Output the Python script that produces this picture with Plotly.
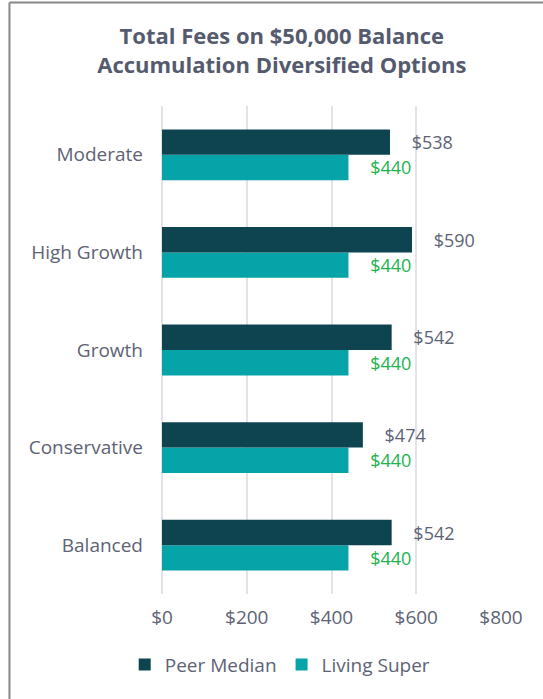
import plotly.graph_objects as go

# data
categories = ['Balanced', 'Conservative', 'Growth', 'High Growth', 'Moderate']
peer_median = [542, 474, 542, 590, 538]
living_super = [440, 440, 440, 440, 440]
tick_vals = [0, 200, 400, 600, 800]
tick_text = ['$0', '$200', '$400', '$600', '$800']

font_name = 'Open Sans'
grey_text = '#5d6375'

fig = go.Figure()

# Living Super first so it sits below Peer Median within each group
fig.add_trace(go.Bar(
    y=categories, x=living_super, orientation='h', name='Living Super',
    marker=dict(color='#06a3a8', line=dict(width=0)),
    text=living_super, texttemplate='    $%{x}', textposition='outside',
    textfont=dict(color='#22b34f', size=18, family=font_name),
    legendrank=2, cliponaxis=False,
))
fig.add_trace(go.Bar(
    y=categories, x=peer_median, orientation='h', name='Peer Median',
    marker=dict(color='#0e4450', line=dict(width=0)),
    text=peer_median, texttemplate='    $%{x}', textposition='outside',
    textfont=dict(color=grey_text, size=18, family=font_name),
    legendrank=1, cliponaxis=False,
))

# frame around the card (left and top edges show)
border = dict(color='#888888', width=2)
shapes = [
    dict(type='line', xref='paper', yref='paper', x0=-0.45, x1=-0.45, y0=-0.25, y1=1.212, line=border),
    dict(type='line', xref='paper', yref='paper', x0=-0.45, x1=1.3, y0=1.212, y1=1.212, line=border),
]

fig.update_layout(
    width=543, height=699,
    barmode='group', bargap=0.48, bargroupgap=0,
    plot_bgcolor='white', paper_bgcolor='white',
    margin=dict(l=162, r=42, t=106, b=105),
    font=dict(family=font_name, color=grey_text, size=19),
    title=dict(
        text='<b>Total Fees on $50,000 Balance<br>Accumulation Diversified Options</b>',
        x=0.519, xanchor='center', y=0.937, yanchor='middle',
        font=dict(size=22, color='#555b6e', family=font_name),
    ),
    xaxis=dict(
        range=[0, 800], tickvals=tick_vals, ticktext=tick_text,
        showgrid=True, gridcolor='#e1e2ea', gridwidth=2,
        zeroline=True, zerolinecolor='#e1e2ea', zerolinewidth=2,
        showline=False, ticklabelstandoff=10,
        tickfont=dict(size=19, color=grey_text),
    ),
    yaxis=dict(
        showgrid=False, showline=False, ticklabelstandoff=18,
        tickfont=dict(size=19, color=grey_text),
    ),
    legend=dict(
        orientation='h', x=-0.11, xanchor='left', y=-0.145, yanchor='middle',
        font=dict(size=19, color=grey_text), itemwidth=30,
        traceorder='normal',
    ),
    shapes=shapes,
)

fig.write_html('out.html', config={'displayModeBar': False},
               post_script="document.body.style.margin='0';document.body.style.overflow='hidden';")
